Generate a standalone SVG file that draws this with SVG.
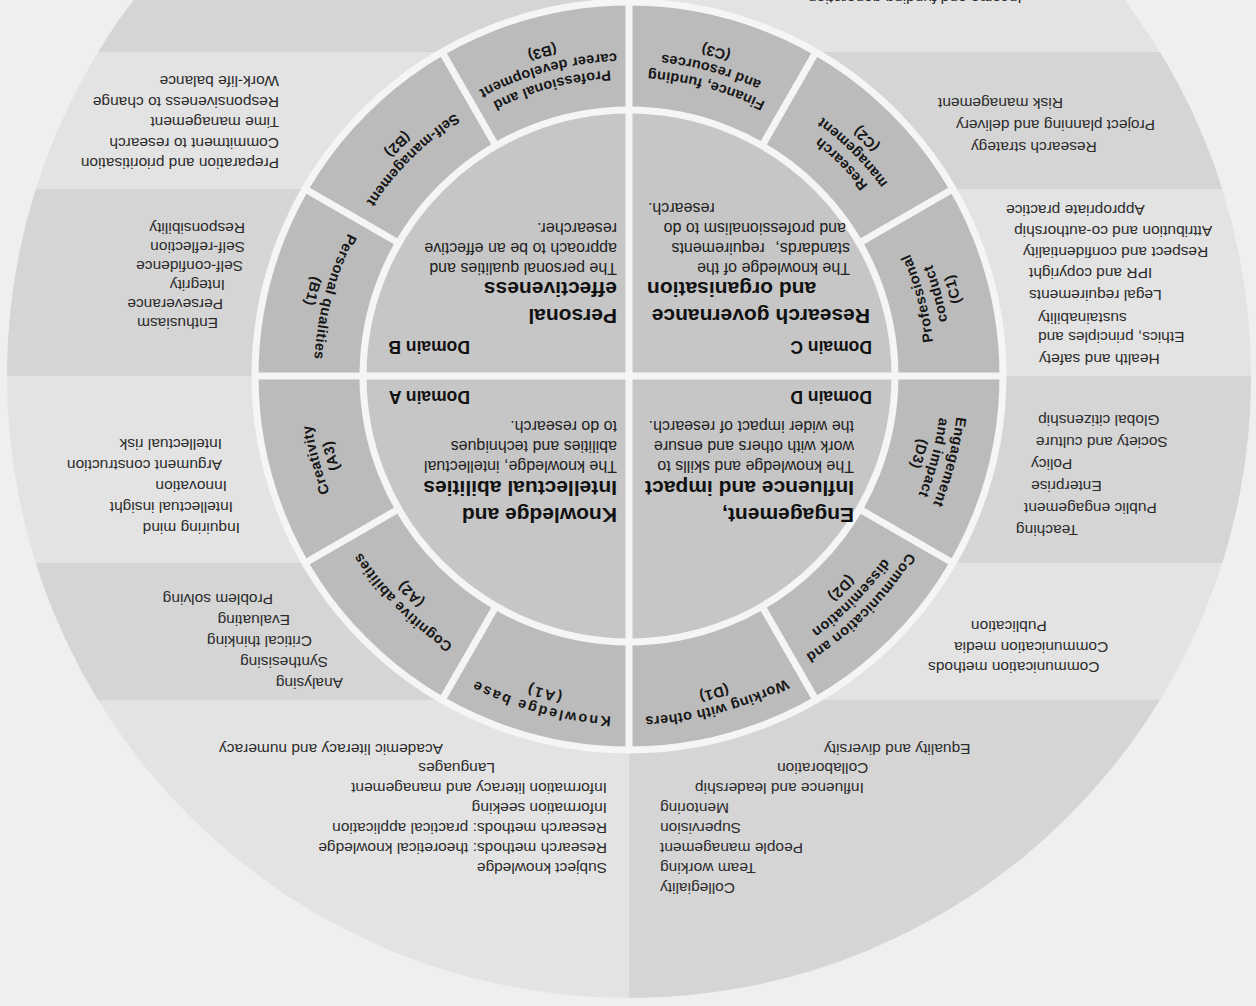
<svg xmlns="http://www.w3.org/2000/svg" width="1256" height="1006" viewBox="0 0 1256 1006">
<style>
text{font-family:"Liberation Sans",Arial,Helvetica,sans-serif}
.lst{font-size:15.5px;fill:#2c2c2c}
.lbl{font-size:14.5px;font-weight:bold;fill:#161616;letter-spacing:0.4px;text-anchor:middle}
.ttl{font-size:21px;font-weight:bold;fill:#111}
.dsc{font-size:16px;fill:#222}
.dom{font-size:17.5px;font-weight:bold;fill:#111}
.e{text-anchor:end}
.wl{stroke:#f5f5f5;stroke-width:7;fill:none}
.dk{fill:#d5d5d5}
</style>
<defs>
<clipPath id="outerClip"><circle cx="627" cy="630" r="622"/></clipPath>
<path id="ta341" d="M -219.19 -261.21 A 341 341 0 0 1 219.19 -261.21"/>
<path id="ta324" d="M -208.27 -248.18 A 324 324 0 0 1 208.27 -248.18"/>
<path id="ta321" d="M -206.34 -245.89 A 321 321 0 0 1 206.34 -245.89"/>
<path id="ta304" d="M -195.41 -232.86 A 304 304 0 0 1 195.41 -232.86"/>
<path id="ta330" d="M -212.12 -252.78 A 330 330 0 0 1 212.12 -252.78"/>
<path id="ta313" d="M -201.20 -239.76 A 313 313 0 0 1 201.20 -239.76"/>
<path id="ta296" d="M -190.27 -226.74 A 296 296 0 0 1 190.27 -226.74"/>
<path id="tb315" d="M -202.48 241.29 A 315 315 0 0 0 202.48 241.29"/>
<path id="tb332" d="M -213.41 254.31 A 332 332 0 0 0 213.41 254.31"/>
<path id="tb306" d="M -196.70 234.40 A 306 306 0 0 0 196.70 234.40"/>
<path id="tb323" d="M -207.62 247.42 A 323 323 0 0 0 207.62 247.42"/>
<path id="tb340" d="M -218.55 260.44 A 340 340 0 0 0 218.55 260.44"/>
</defs>
<rect x="0" y="0" width="1256" height="1006" fill="#efefef"/>
<g transform="rotate(180 628 503)">
  <g id="wheel-background">
    <circle cx="627" cy="630" r="622" fill="#e3e3e3"/>
    <g clip-path="url(#outerClip)">
      <rect class="dk" x="627" y="306" width="700" height="137"/>
      <rect class="dk" x="627" y="630" width="700" height="187"/>
      <rect class="dk" x="627" y="954" width="700" height="400"/>
      <rect class="dk" x="-100" y="-100" width="727" height="406"/>
      <rect class="dk" x="-100" y="443" width="727" height="187"/>
      <rect class="dk" x="-100" y="817" width="727" height="137"/>
    </g>
    <circle cx="627" cy="630" r="374" fill="#bbbbbb"/>
    <circle cx="627" cy="630" r="266" fill="#c6c6c6"/>
  </g>
  <g id="dividers">
    <circle class="wl" cx="627" cy="630" r="266"/>
    <circle class="wl" cx="627" cy="630" r="374"/>
    <line class="wl" x1="253" y1="630" x2="1001" y2="630"/>
    <line class="wl" x1="627" y1="256" x2="627" y2="1004"/>
    <g transform="translate(627 630)">
      <line class="wl" x1="266" y1="0" x2="374" y2="0" transform="rotate(30)"/>
      <line class="wl" x1="266" y1="0" x2="374" y2="0" transform="rotate(60)"/>
      <line class="wl" x1="266" y1="0" x2="374" y2="0" transform="rotate(120)"/>
      <line class="wl" x1="266" y1="0" x2="374" y2="0" transform="rotate(150)"/>
      <line class="wl" x1="266" y1="0" x2="374" y2="0" transform="rotate(210)"/>
      <line class="wl" x1="266" y1="0" x2="374" y2="0" transform="rotate(240)"/>
      <line class="wl" x1="266" y1="0" x2="374" y2="0" transform="rotate(300)"/>
      <line class="wl" x1="266" y1="0" x2="374" y2="0" transform="rotate(330)"/>
    </g>
  </g>

  <g id="domain-A">
    <text class="ttl" x="639" y="498">Knowledge and</text>
    <text class="ttl" x="639" y="525">Intellectual abilities</text>
    <text class="dsc" x="639" y="545">The knowledge, intellectual</text>
    <text class="dsc" x="639" y="565">abilities and techniques</text>
    <text class="dsc" x="639" y="585">to do research.</text>
    <text class="dom" x="786" y="615">Domain A</text>
  </g>
  <g id="domain-B">
    <text class="dom" x="786" y="665">Domain B</text>
    <text class="ttl" x="639" y="697">Personal</text>
    <text class="ttl" x="639" y="724">effectiveness</text>
    <text class="dsc" x="639" y="743">The personal qualities and</text>
    <text class="dsc" x="639" y="763">approach to be an effective</text>
    <text class="dsc" x="639" y="783">researcher.</text>
  </g>
  <g id="domain-C">
    <text class="dom" x="384" y="665">Domain C</text>
    <text class="ttl" x="386" y="697">Research governance</text>
    <text class="ttl e" x="609" y="724">and organisation</text>
    <text class="dsc" x="406" y="743">The knowledge of the</text>
    <text class="dsc" x="406" y="763" style="word-spacing:6px">standards, requirements</text>
    <text class="dsc" x="410" y="783">and professionalism to do</text>
    <text class="dsc e" x="608" y="803">research.</text>
  </g>
  <g id="domain-D">
    <text class="ttl" x="402" y="498">Engagement,</text>
    <text class="ttl" x="402" y="525">Influence and impact</text>
    <text class="dsc" x="402" y="545">The knowledge and skills to</text>
    <text class="dsc" x="402" y="565">work with others and ensure</text>
    <text class="dsc" x="402" y="585">the wider impact of research.</text>
    <text class="dom" x="384" y="615">Domain D</text>
  </g>

  <g id="A1">
    <text class="lbl" style="letter-spacing:2px" transform="translate(627 630) rotate(15)"><textPath href="#ta341" startOffset="50%">Knowledge base</textPath></text>
    <text class="lbl" style="letter-spacing:2px" transform="translate(627 630) rotate(15)"><textPath href="#ta324" startOffset="50%">(A1)</textPath></text>
    <text class="lst" x="649" y="143">Subject knowledge</text>
    <text class="lst" x="649" y="163">Research methods: theoretical knowledge</text>
    <text class="lst" x="649" y="183">Research methods: practical application</text>
    <text class="lst" x="649" y="203">Information seeking</text>
    <text class="lst" x="649" y="223">Information literacy and management</text>
    <text class="lst" x="761" y="243">Languages</text>
    <text class="lst" x="813" y="262">Academic literacy and numeracy</text>
  </g>
  <g id="A2">
    <text class="lbl" transform="translate(627 630) rotate(45)"><textPath href="#ta321" startOffset="50%">Cognitive abilities</textPath></text>
    <text class="lbl" transform="translate(627 630) rotate(45)"><textPath href="#ta304" startOffset="50%">(A2)</textPath></text>
    <text class="lst" x="913" y="328">Analysing</text>
    <text class="lst" x="928" y="349">Synthesising</text>
    <text class="lst" x="944" y="370">Critical thinking</text>
    <text class="lst" x="966" y="391">Evaluating</text>
    <text class="lst" x="983" y="412">Problem solving</text>
  </g>
  <g id="A3">
    <text class="lbl" transform="translate(627 630) rotate(75)"><textPath href="#ta321" startOffset="50%">Creativity</textPath></text>
    <text class="lbl" transform="translate(627 630) rotate(75)"><textPath href="#ta304" startOffset="50%">(A3)</textPath></text>
    <text class="lst" x="1016" y="483">Inquiring mind</text>
    <text class="lst" x="1023" y="504">Intellectual insight</text>
    <text class="lst" x="1029" y="525">Innovation</text>
    <text class="lst" x="1034" y="546">Argument construction</text>
    <text class="lst" x="1034" y="567">Intellectual risk</text>
  </g>
  <g id="B1">
    <text class="lbl" transform="translate(627 630) rotate(-75)"><textPath href="#tb315" startOffset="50%">Personal qualities</textPath></text>
    <text class="lbl" transform="translate(627 630) rotate(-75)"><textPath href="#tb332" startOffset="50%">(B1)</textPath></text>
    <text class="lst" x="1038" y="688">Enthusiasm</text>
    <text class="lst" x="1033" y="707">Perseverance</text>
    <text class="lst" x="1031" y="726">Integrity</text>
    <text class="lst" x="1013" y="745">Self-confidence</text>
    <text class="lst" x="1011" y="764">Self-reflection</text>
    <text class="lst" x="1011" y="783">Responsibility</text>
  </g>
  <g id="B2">
    <text class="lbl" transform="translate(627 630) rotate(-45)"><textPath href="#tb315" startOffset="50%">Self-management</textPath></text>
    <text class="lbl" transform="translate(627 630) rotate(-45)"><textPath href="#tb332" startOffset="50%">(B2)</textPath></text>
    <text class="lst" x="977" y="848">Preparation and prioritisation</text>
    <text class="lst" x="977" y="868">Commitment to research</text>
    <text class="lst" x="977" y="889">Time management</text>
    <text class="lst" x="977" y="909">Responsiveness to change</text>
    <text class="lst" x="977" y="930">Work-life balance</text>
  </g>
  <g id="B3">
    <text class="lbl" transform="translate(627 630) rotate(-15)"><textPath href="#tb306" startOffset="50%">Professional and</textPath></text>
    <text class="lbl" transform="translate(627 630) rotate(-15)"><textPath href="#tb323" startOffset="50%">career development</textPath></text>
    <text class="lbl" transform="translate(627 630) rotate(-15)"><textPath href="#tb340" startOffset="50%">(B3)</textPath></text>
  </g>
  <g id="C3">
    <text class="lbl" transform="translate(627 630) rotate(15)"><textPath href="#tb306" startOffset="50%">Finance, funding</textPath></text>
    <text class="lbl" transform="translate(627 630) rotate(15)"><textPath href="#tb323" startOffset="50%">and resources</textPath></text>
    <text class="lbl" transform="translate(627 630) rotate(15)"><textPath href="#tb340" startOffset="50%">(C3)</textPath></text>
    <text class="lst e" x="448" y="1013">Income and funding generation</text>
  </g>
  <g id="C2">
    <text class="lbl" transform="translate(627 630) rotate(45)"><textPath href="#tb306" startOffset="50%">Research</textPath></text>
    <text class="lbl" transform="translate(627 630) rotate(45)"><textPath href="#tb323" startOffset="50%">management</textPath></text>
    <text class="lbl" transform="translate(627 630) rotate(45)"><textPath href="#tb340" startOffset="50%">(C2)</textPath></text>
    <text class="lst e" x="285" y="864">Research strategy</text>
    <text class="lst e" x="300" y="886">Project planning and delivery</text>
    <text class="lst e" x="318" y="908">Risk management</text>
  </g>
  <g id="C1">
    <text class="lbl" transform="translate(627 630) rotate(75)"><textPath href="#tb306" startOffset="50%">Professional</textPath></text>
    <text class="lbl" transform="translate(627 630) rotate(75)"><textPath href="#tb323" startOffset="50%">conduct</textPath></text>
    <text class="lbl" transform="translate(627 630) rotate(75)"><textPath href="#tb340" startOffset="50%">(C1)</textPath></text>
    <text class="lst e" x="217" y="652">Health and safety</text>
    <text class="lst e" x="218" y="674">Ethics, principles and</text>
    <text class="lst e" x="218" y="693">sustainability</text>
    <text class="lst e" x="227" y="716">Legal requirements</text>
    <text class="lst e" x="227" y="738">IPR and copyright</text>
    <text class="lst e" x="233" y="759">Respect and confidentiality</text>
    <text class="lst e" x="242" y="780">Attribution and co-authorship</text>
    <text class="lst e" x="250" y="801">Appropriate practice</text>
  </g>
  <g id="D3">
    <text class="lbl" transform="translate(627 630) rotate(-75)"><textPath href="#ta330" startOffset="50%">Engagement</textPath></text>
    <text class="lbl" transform="translate(627 630) rotate(-75)"><textPath href="#ta313" startOffset="50%">and impact</textPath></text>
    <text class="lbl" transform="translate(627 630) rotate(-75)"><textPath href="#ta296" startOffset="50%">(D3)</textPath></text>
    <text class="lst e" x="240" y="481">Teaching</text>
    <text class="lst e" x="232" y="503">Public engagement</text>
    <text class="lst e" x="225" y="525">Enterprise</text>
    <text class="lst e" x="225" y="547">Policy</text>
    <text class="lst e" x="220" y="569">Society and culture</text>
    <text class="lst e" x="218" y="591">Global citizenship</text>
  </g>
  <g id="D2">
    <text class="lbl" transform="translate(627 630) rotate(-45)"><textPath href="#ta330" startOffset="50%">Communication and</textPath></text>
    <text class="lbl" transform="translate(627 630) rotate(-45)"><textPath href="#ta313" startOffset="50%">dissemination</textPath></text>
    <text class="lbl" transform="translate(627 630) rotate(-45)"><textPath href="#ta296" startOffset="50%">(D2)</textPath></text>
    <text class="lst e" x="328" y="344">Communication methods</text>
    <text class="lst e" x="302" y="364">Communication media</text>
    <text class="lst e" x="285" y="385">Publication</text>
  </g>
  <g id="D1">
    <text class="lbl" transform="translate(627 630) rotate(-15)"><textPath href="#ta341" startOffset="50%">Working with others</textPath></text>
    <text class="lbl" transform="translate(627 630) rotate(-15)"><textPath href="#ta324" startOffset="50%">(D1)</textPath></text>
    <text class="lst e" x="596" y="123">Collegiality</text>
    <text class="lst e" x="596" y="143">Team working</text>
    <text class="lst e" x="596" y="163">People management</text>
    <text class="lst e" x="596" y="183">Supervision</text>
    <text class="lst e" x="596" y="203">Mentoring</text>
    <text class="lst e" x="561" y="223">Influence and leadership</text>
    <text class="lst e" x="479" y="243">Collaboration</text>
    <text class="lst e" x="432" y="262">Equality and diversity</text>
  </g>
</g>
</svg>
